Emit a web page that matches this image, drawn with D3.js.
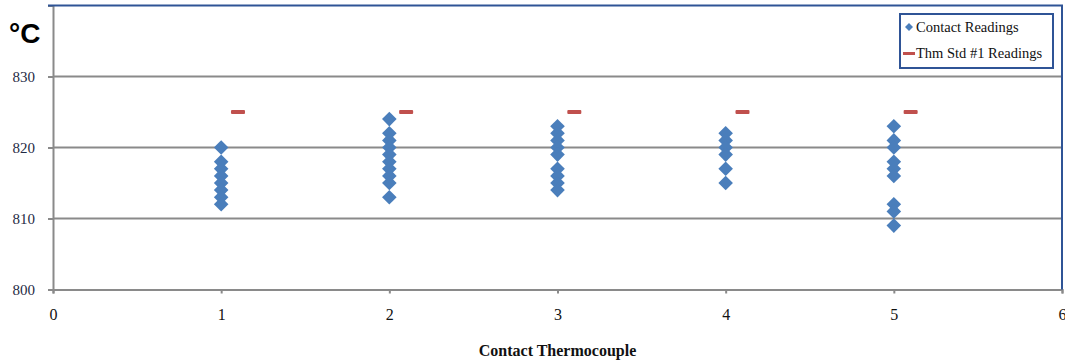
<!DOCTYPE html>
<html>
<head>
<meta charset="utf-8">
<script src="https://cdn.jsdelivr.net/npm/d3@7"></script>
<style>
  html, body { margin: 0; padding: 0; background: #fff; }
  svg { display: block; }
</style>
</head>
<body>
<svg id="chart"></svg>
<script>
const WIDTH = 1065;
const HEIGHT = 364;

// contact thermocouple readings, one list per thermocouple
const thermocouples = [1, 2, 3, 4, 5];
const contactReadings = [
	[820, 818, 817, 816, 815, 814, 813, 812],
	[824, 822, 821, 820, 819, 818, 817, 816, 815, 813],
	[823, 822, 821, 820, 819, 817, 816, 815, 814],
	[822, 821, 820, 819, 817, 815],
	[823, 821, 820, 818, 817, 816, 812, 811, 809]
];
// standard thermocouple reading, plotted just right of each contact
const stdOffset = 0.1;
const stdReadings = [825, 825, 825, 825, 825];

const xTicks = [0, 1, 2, 3, 4, 5, 6];
const yTicks = [800, 810, 820, 830];
const seriesNames = ['Contact Readings', 'Thm Std #1 Readings'];

const BLUE = '#4a7ebb';
const RED = '#c0504d';
const GRID = '#8a8a8a';
const BORDER = '#2f5496';

const plot = { left: 53, right: 1062, top: 5.5, bottom: 289.5 };

// diamond marker given by half-diagonal
function diamondPath(r) {
	return `M0,${-r}L${r},0L0,${r}L${-r},0Z`;
}

const svg = d3.select('#chart').attr('width', WIDTH).attr('height', HEIGHT);

const x = d3.scaleLinear().domain([0, 6]).range([plot.left, plot.right]);
const y = d3.scaleLinear().domain([800, 840]).range([plot.bottom, plot.top]);

// gridlines
svg.append('g')
	.selectAll('line')
	.data(yTicks.filter((t) => t > 800))
	.enter()
	.append('line')
	.attr('x1', plot.left)
	.attr('x2', plot.right)
	.attr('y1', (d) => y(d))
	.attr('y2', (d) => y(d))
	.attr('stroke', GRID)
	.attr('stroke-width', 2);

// y axis
const yAxis = svg.append('g')
	.attr('transform', `translate(${plot.left},0)`)
	.call(d3.axisLeft(y).tickValues(yTicks.concat([840])).tickSize(5).tickPadding(13).tickFormat((d) => (d === 840 ? '' : d)));
yAxis.select('.domain').attr('stroke', GRID).attr('stroke-width', 2);
yAxis.selectAll('.tick line').attr('stroke', GRID).attr('stroke-width', 2);
yAxis.selectAll('.tick text')
	.attr('font-family', '"Liberation Serif", serif')
	.attr('font-size', '15px')
	.attr('fill', '#1f2a44');

// x axis
const xAxis = svg.append('g')
	.attr('transform', `translate(0,${plot.bottom})`)
	.call(d3.axisBottom(x).tickValues(xTicks).tickSize(4).tickPadding(15).tickFormat(d3.format('d')));
xAxis.select('.domain').attr('stroke', GRID).attr('stroke-width', 2);
xAxis.selectAll('.tick line').attr('stroke', GRID).attr('stroke-width', 2);
xAxis.selectAll('.tick text')
	.attr('font-family', '"Liberation Serif", serif')
	.attr('font-size', '16px')
	.attr('fill', '#111');

// blue border top and right
svg.append('path')
	.attr('d', `M${plot.left - 5},${plot.top} H${plot.right} V${plot.bottom}`)
	.attr('fill', 'none')
	.attr('stroke', BORDER)
	.attr('stroke-width', 2);

// contact readings as diamonds
const points = [];
thermocouples.forEach((t, i) => {
	contactReadings[i].forEach((v) => points.push({ t, v }));
});
svg.append('g')
	.selectAll('path')
	.data(points)
	.enter()
	.append('path')
	.attr('d', diamondPath(7.3))
	.attr('transform', (d) => `translate(${x(d.t)},${y(d.v)})`)
	.attr('fill', BLUE);

// standard readings as short dashes
svg.append('g')
	.selectAll('rect')
	.data(stdReadings)
	.enter()
	.append('rect')
	.attr('x', (d, i) => x(thermocouples[i] + stdOffset) - 7)
	.attr('y', (d) => y(d) - 2)
	.attr('width', 14)
	.attr('height', 4)
	.attr('rx', 1)
	.attr('fill', RED);

// axis titles
svg.append('text')
	.attr('x', 9)
	.attr('y', 43)
	.attr('font-family', '"Liberation Sans", sans-serif')
	.attr('font-weight', 'bold')
	.attr('font-size', '28px')
	.attr('fill', '#000')
	.text('°C');

svg.append('text')
	.attr('x', x(3))
	.attr('y', 356)
	.attr('text-anchor', 'middle')
	.attr('font-family', '"Liberation Serif", serif')
	.attr('font-weight', 'bold')
	.attr('font-size', '16px')
	.attr('fill', '#111')
	.text('Contact Thermocouple');

// legend
const legend = svg.append('g').attr('transform', 'translate(900,14)');
legend.append('rect')
	.attr('width', 153)
	.attr('height', 54)
	.attr('fill', '#fff')
	.attr('stroke', BORDER)
	.attr('stroke-width', 2);
legend.append('path')
	.attr('d', diamondPath(4))
	.attr('transform', 'translate(9,13)')
	.attr('fill', BLUE);
legend.append('rect')
	.attr('x', 3)
	.attr('y', 38)
	.attr('width', 12)
	.attr('height', 3)
	.attr('fill', RED);
legend.selectAll('text.legend-label')
	.data(seriesNames)
	.enter()
	.append('text')
	.attr('class', 'legend-label')
	.attr('x', 16)
	.attr('y', (d, i) => 18 + i * 26)
	.attr('font-family', '"Liberation Serif", serif')
	.attr('font-size', '14.5px')
	.attr('fill', '#111')
	.text((d) => d);
</script>
</body>
</html>
